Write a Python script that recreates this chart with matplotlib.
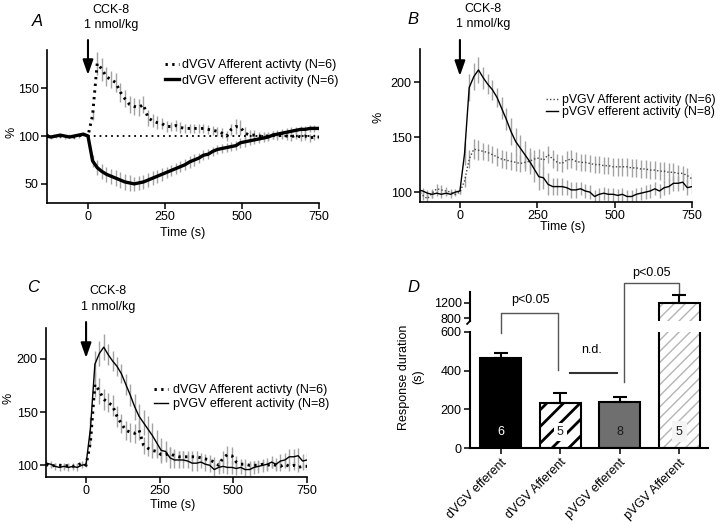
import numpy as np
import matplotlib
matplotlib.use("Agg")
import matplotlib.pyplot as plt
from matplotlib.transforms import blended_transform_factory

plt.rcParams['font.family'] = ['Liberation Sans', 'DejaVu Sans']
plt.rcParams['font.size'] = 9

# ---------------- data ----------------
time_s = list(range(-135, 751, 15))

# dVGV afferent activity (%), N=6
dvgv_aff = [101, 99, 100, 100, 99, 100, 99, 100, 102,
            100, 122, 176, 170, 162, 159, 156, 146, 139, 133,
            131, 130, 133, 119, 116, 114, 113, 110, 110, 111,
            109, 108, 108, 108, 108, 108, 107, 106, 105, 103,
            100, 107, 110, 109, 103, 101, 101, 100, 100, 100,
            101, 100, 101, 100, 99, 101, 99, 100, 98, 99,
            99]
dvgv_aff_err = [2, 2, 2, 2, 2, 2, 2, 2, 2,
                1, 5, 12, 12, 10, 9, 10, 10, 9, 9,
                9, 9, 9, 8, 7, 7, 6, 6, 5, 6,
                6, 5, 5, 5, 5, 5, 5, 5, 5, 5,
                5, 6, 8, 8, 6, 5, 5, 4, 4, 4,
                4, 4, 4, 4, 4, 4, 4, 4, 4, 3,
                3]

# dVGV efferent activity (%), N=6
dvgv_eff = [100, 99, 100, 101, 100, 99, 100, 101, 102,
            100, 74, 67, 63, 60, 58, 56, 54, 52, 51,
            50, 51, 52, 54, 56, 58, 60, 62, 64, 66,
            68, 70, 73, 75, 77, 80, 81, 84, 86, 87,
            88, 89, 90, 93, 94, 95, 96, 97, 98, 99,
            101, 102, 103, 104, 105, 106, 107, 107, 108, 108,
            108]
dvgv_eff_err = [1, 1, 1, 1, 1, 1, 1, 1, 1,
                2, 6, 8, 8, 8, 8, 8, 8, 8, 8,
                7, 7, 7, 7, 7, 7, 7, 6, 6, 6,
                6, 6, 6, 6, 5, 5, 5, 5, 5, 5,
                5, 5, 5, 5, 5, 4, 4, 4, 4, 4,
                4, 4, 4, 4, 4, 4, 4, 4, 4, 4,
                4]

# pVGV afferent activity (%), N=6
pvgv_aff = [102, 97, 94, 99, 103, 102, 101, 100, 98,
            100, 110, 130, 139, 138, 137, 136, 134, 132, 130,
            129, 128, 127, 126, 127, 128, 130, 131, 129, 134,
            130, 127, 126, 129, 130, 128, 127, 127, 126, 125,
            125, 124, 124, 123, 123, 123, 123, 122, 122, 121,
            121, 120, 120, 119, 119, 118, 118, 117, 117, 115,
            112]
pvgv_aff_err = [4, 4, 6, 4, 4, 4, 4, 3, 2,
                2, 5, 8, 9, 9, 8, 8, 8, 8, 8,
                8, 8, 8, 8, 8, 8, 8, 8, 8, 8,
                8, 8, 8, 8, 8, 8, 8, 8, 8, 8,
                8, 8, 8, 8, 8, 8, 8, 8, 8, 8,
                8, 8, 8, 8, 8, 8, 8, 8, 7, 7,
                6]

# pVGV efferent activity (%), N=8
pvgv_eff = [102, 101, 99, 98, 99, 98, 99, 98, 100,
            101, 135, 195, 205, 211, 204, 198, 193, 186, 176,
            166, 155, 146, 140, 134, 128, 121, 114, 113, 107,
            105, 105, 105, 104, 102, 102, 103, 101, 100, 96,
            98, 99, 98, 98, 97, 98, 96, 96, 98, 99,
            100, 101, 103, 101, 104, 105, 108, 108, 109, 104,
            105]
pvgv_eff_err = [3, 3, 3, 3, 3, 3, 3, 3, 3,
                3, 10, 12, 12, 12, 10, 9, 9, 9, 10,
                10, 12, 12, 12, 12, 12, 12, 12, 10, 10,
                8, 8, 8, 7, 7, 7, 6, 6, 6, 6,
                6, 6, 6, 6, 6, 6, 6, 6, 6, 6,
                6, 6, 6, 6, 7, 7, 7, 7, 7, 7,
                7]

# Panel D: response duration (s)
groups = ["dVGV efferent", "dVGV Afferent", "pVGV efferent", "pVGV Afferent"]
durations = [463, 235, 237, 1185]
duration_err = [25, 48, 28, 210]
n_animals = [6, 5, 8, 5]

# ---------------- layout helpers ----------------
W, H = 720, 524
def rect(l, t, r, b):
    return [l / W, 1 - b / H, (r - l) / W, (b - t) / H]
def fxy(x, y):
    return (x / W, 1 - y / H)

ERR = '#a3a3a3'
DOTS = (0, (0.8, 1.5))
fig = plt.figure(figsize=(7.2, 5.24), dpi=100)

def style(ax, lw=1.2):
    for s in ('top', 'right'):
        ax.spines[s].set_visible(False)
    for s in ('left', 'bottom'):
        ax.spines[s].set_linewidth(lw)
    ax.tick_params(direction='out', length=4, width=1.1, labelsize=9, pad=2)

def add_cck(ax, tip, tail, ty):
    tr = blended_transform_factory(ax.transData, ax.transAxes)
    ax.annotate('', xy=(0, tip), xycoords=tr, xytext=(0, tail), textcoords=tr,
                arrowprops=dict(arrowstyle='-|>,head_length=1.0,head_width=0.35',
                                color='k', lw=1.5, shrinkA=0, shrinkB=0),
                annotation_clip=False)
    ax.text(75, ty, 'CCK-8\n1 nmol/kg', transform=tr, ha='center', va='center',
            linespacing=1.35, fontsize=9, clip_on=False)

def time_axis(ax, xmin, ylim, yticks):
    ax.set_xlim(xmin, 750)
    ax.set_ylim(*ylim)
    ax.set_xticks([0, 250, 500, 750])
    ax.set_yticks(yticks)

# ---------------- Panel A ----------------
axA = fig.add_axes(rect(47, 50, 319, 203))
style(axA)
axA.errorbar(time_s, dvgv_aff, yerr=dvgv_aff_err, fmt='none', ecolor=ERR, elinewidth=1, zorder=1)
axA.errorbar(time_s, dvgv_eff, yerr=dvgv_eff_err, fmt='none', ecolor=ERR, elinewidth=1, zorder=1)
axA.hlines(100, 0, 750, colors='k', linestyles=(0, (1, 2.2)), lw=1.3, zorder=2)
axA.plot(time_s, dvgv_aff, color='k', lw=2.1, ls=DOTS,
         label='dVGV Afferent activty (N=6)', zorder=3)
axA.plot(time_s, dvgv_eff, color='k', lw=2.4,
         label='dVGV efferent activity (N=6)', zorder=4)
time_axis(axA, -133, (30, 190), [50, 100, 150])
axA.set_xlabel('Time (s)', fontsize=9)
axA.xaxis.set_label_coords(0.5, -0.16)
axA.set_ylabel('%', fontsize=9)
axA.yaxis.set_label_coords(-0.11, 0.46)
add_cck(axA, 0.837, 1.065, 1.215)
axA.legend(loc='upper left', bbox_to_anchor=fxy(165, 59), bbox_transform=fig.transFigure,
           frameon=False, borderpad=0, borderaxespad=0, handlelength=1.1,
           handletextpad=0.3, labelspacing=0.3, fontsize=9)

# ---------------- Panel B ----------------
axB = fig.add_axes(rect(420, 49, 692, 202))
style(axB)
axB.errorbar(time_s, pvgv_aff, yerr=pvgv_aff_err, fmt='none', ecolor=ERR, elinewidth=1, zorder=1)
axB.errorbar(time_s, pvgv_eff, yerr=pvgv_eff_err, fmt='none', ecolor=ERR, elinewidth=1, zorder=1)
axB.plot(time_s, pvgv_aff, color='#444444', lw=1.0, ls=(0, (1, 1.5)),
         label='pVGV Afferent activity (N=6)', zorder=3)
axB.plot(time_s, pvgv_eff, color='k', lw=1.0,
         label='pVGV efferent activity (N=8)', zorder=4)
time_axis(axB, -129, (91, 230), [100, 150, 200])
axB.set_xlabel('Time (s)', fontsize=9)
axB.xaxis.set_label_coords(0.526, -0.125)
axB.set_ylabel('%', fontsize=9)
axB.yaxis.set_label_coords(-0.13, 0.556)
add_cck(axB, 0.824, 1.059, 1.21)
axB.legend(loc='upper left', bbox_to_anchor=fxy(546, 94), bbox_transform=fig.transFigure,
           frameon=False, borderpad=0, borderaxespad=0, handlelength=1.0,
           handletextpad=0.3, labelspacing=0.0, fontsize=8.8)

# ---------------- Panel C ----------------
axC = fig.add_axes(rect(46, 328, 307, 477))
style(axC)
axC.errorbar(time_s, dvgv_aff, yerr=dvgv_aff_err, fmt='none', ecolor=ERR, elinewidth=1, zorder=1)
axC.errorbar(time_s, pvgv_eff, yerr=pvgv_eff_err, fmt='none', ecolor=ERR, elinewidth=1, zorder=1)
axC.plot(time_s, dvgv_aff, color='k', lw=2.1, ls=DOTS,
         label='dVGV Afferent activty (N=6)', zorder=3)
axC.plot(time_s, pvgv_eff, color='k', lw=1.0,
         label='pVGV efferent activity (N=8)', zorder=4)
time_axis(axC, -136, (89, 229), [100, 150, 200])
axC.set_xlabel('Time (s)', fontsize=9)
axC.xaxis.set_label_coords(0.487, -0.148)
axC.set_ylabel('%', fontsize=9)
axC.yaxis.set_label_coords(-0.12, 0.53)
add_cck(axC, 0.799, 1.04, 1.195)
axC.legend(loc='upper left', bbox_to_anchor=fxy(154, 384), bbox_transform=fig.transFigure,
           frameon=False, borderpad=0, borderaxespad=0, handlelength=1.1,
           handletextpad=0.4, labelspacing=0.15, fontsize=9)

# ---------------- Panel D ----------------
axD = fig.add_axes(rect(470, 331.7, 708, 448.3))
axDu = fig.add_axes(rect(470, 291.7, 708, 321))
axDu.patch.set_visible(False)
xpos = np.arange(len(groups))
face = ['black', 'white', '#6f6f6f', 'white']
hatch = [None, '//', None, '///']
hatch_edge = ['black', 'black', 'black', '#b4b4b4']
hatch_lw = [1.0, 2.0, 1.0, 1.0]
bw = 0.69
for ax in (axD, axDu):
    for i in range(len(groups)):
        b = ax.bar(xpos[i], durations[i], bw, color=face[i], edgecolor=hatch_edge[i],
                   hatch=hatch[i], lw=0, zorder=1)
        for p in b:
            try:
                p.set_hatch_linewidth(hatch_lw[i])
            except AttributeError:
                pass
        ax.bar(xpos[i], durations[i], bw, fill=False, edgecolor='k', lw=1.5, zorder=2)
    ax.errorbar(xpos, durations, yerr=[[0] * 4, duration_err], fmt='none', ecolor='k',
                elinewidth=1.5, capsize=5, capthick=1.5, zorder=3)
    ax.set_xlim(-0.52, 3.48)

style(axD, lw=1.5)
axD.set_ylim(0, 600)
axD.set_yticks([0, 200, 400, 600])
axD.set_xticks(xpos)
axD.set_xticklabels(groups, rotation=45, ha='right', rotation_mode='anchor', fontsize=9)

style(axDu, lw=1.5)
axDu.spines['bottom'].set_visible(False)
axDu.set_ylim(730, 1480)
axDu.set_yticks([800, 1200])
axDu.set_xticks([])
axDu.plot([0, -0.012], [0, -0.1], transform=axDu.transAxes, color='k', lw=1.3, clip_on=False)

for i in range(len(groups)):
    kw = dict(ha='center', va='center', fontsize=9, zorder=5)
    if i == 0:
        axD.text(xpos[i], 85, str(n_animals[i]), color='white', **kw)
    elif i == 1:
        axD.text(xpos[i], 85, str(n_animals[i]), color='#222222',
                 bbox=dict(boxstyle='square,pad=0.25', fc='white', ec='none'), **kw)
    elif i == 2:
        axD.text(xpos[i], 85, str(n_animals[i]), color='#1a1a1a', **kw)
    else:
        axD.text(xpos[i], 85, str(n_animals[i]), color='#222222',
                 bbox=dict(boxstyle='square,pad=0.35', fc='#f4f4f4', ec='none'), **kw)

BR = '#555555'
axD.plot([0, 0, 0.955, 0.955], [595, 698, 698, 403], color=BR, lw=1, clip_on=False, zorder=6)
axD.text(0.5, 763, 'p<0.05', ha='center', va='center', fontsize=9, clip_on=False, zorder=6)
axD.plot([1.16, 1.95], [389, 389], color='#333333', lw=1.5, clip_on=False)
axD.text(1.53, 506, 'n.d.', ha='center', va='center', fontsize=9)
axD.plot([2.07, 2.07, 2.985, 2.985], [343, 852, 852, 801], color=BR, lw=1, clip_on=False, zorder=6)
axD.text(2.53, 904, 'p<0.05', ha='center', va='center', fontsize=9, clip_on=False, zorder=6)

fig.text(*fxy(411, 377), 'Response duration\n(s)', rotation=90, ha='center', va='center',
         multialignment='center', fontsize=9)

# panel letters
for letter, (x, y) in zip('ABCD', [(37, 21), (413, 20), (33, 287), (413, 287)]):
    fig.text(*fxy(x, y), letter, style='italic', fontsize=12, ha='center', va='center')

fig.savefig('out.png', dpi=100)
